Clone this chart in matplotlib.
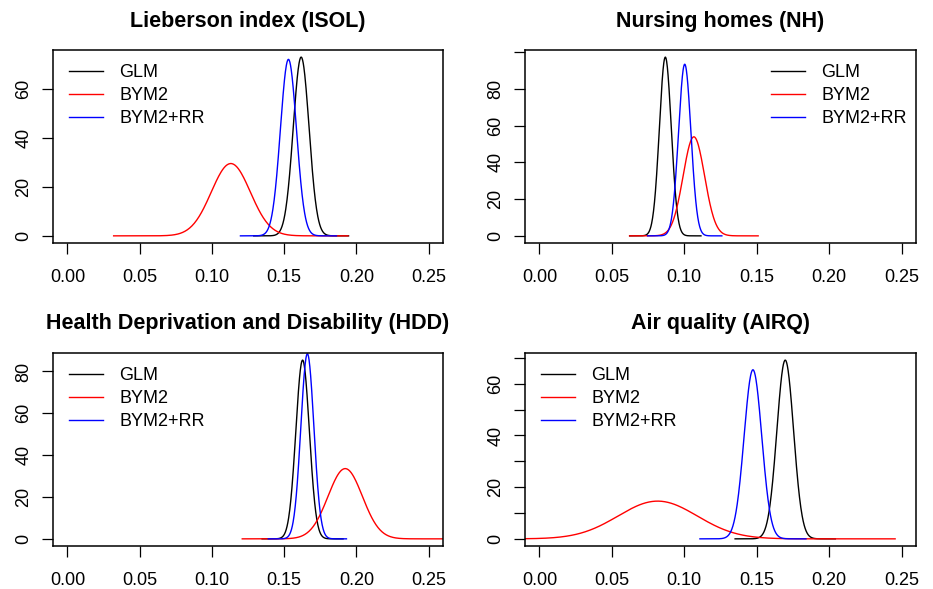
import numpy as np
import matplotlib
matplotlib.use("Agg")
import matplotlib.pyplot as plt

plt.rcParams["font.family"] = ["Liberation Sans", "DejaVu Sans"]

# ── Data ────────────────────────────────────────────────────
panel_titles = [
    "Lieberson index (ISOL)",
    "Nursing homes (NH)",
    "Health Deprivation and Disability (HDD)",
    "Air quality (AIRQ)",
]
model_names = ["GLM", "BYM2", "BYM2+RR"]
model_colors = ["black", "red", "blue"]

# posterior mean / sd of each coefficient (peak position and peak height)
glm_mean = [0.1618, 0.0869, 0.1628, 0.1697]
glm_sd = [0.00547, 0.00410, 0.00467, 0.00577]
bym2_mean = [0.1131, 0.1066, 0.1923, 0.0816]
bym2_sd = [0.01352, 0.00740, 0.01188, 0.02733]
rr_mean = [0.1530, 0.1003, 0.1661, 0.1474]
rr_sd = [0.00554, 0.00427, 0.00451, 0.00610]

x_ticks = [0.00, 0.05, 0.10, 0.15, 0.20, 0.25]
y_tick_step = [20, 20, 20, 10]
y_label_max = [60, 80, 80, 60]
legend_side = ["left", "right", "left", "left"]


def marginal(mean, sd, n=300):
    x = np.linspace(mean - 6 * sd, mean + 6 * sd, n)
    y = np.exp(-0.5 * ((x - mean) / sd) ** 2) / (sd * np.sqrt(2 * np.pi))
    return x, y


fig = plt.figure(figsize=(9.33, 5.89), dpi=100)

W, H = 933, 589
boxes = [(53, 50, 443, 243), (525, 50, 916, 243),
         (53, 353, 443, 546), (525, 353, 916, 546)]

means = list(zip(glm_mean, bym2_mean, rr_mean))
sds = list(zip(glm_sd, bym2_sd, rr_sd))

for i, (x0, y0, x1, y1) in enumerate(boxes):
    ax = fig.add_axes([x0 / W, 1 - y1 / H, (x1 - x0) / W, (y1 - y0) / H])

    gmax = 0
    for j, name in enumerate(model_names):
        x, y = marginal(means[i][j], sds[i][j])
        if j == 0:
            gmax = y.max()
        ax.plot(x, y, color=model_colors[j], lw=1.0, label=name)

    ax.set_xlim(-0.01, 0.26)
    ax.set_ylim(-0.04 * gmax, 1.04 * gmax)

    ax.set_xticks(x_ticks)
    ax.set_xticklabels([f"{t:.2f}" for t in x_ticks])
    yt = np.arange(0, 1.04 * gmax, y_tick_step[i])
    ax.set_yticks(yt)
    ax.set_yticklabels([f"{int(v)}" if (v % 20 == 0 and v <= y_label_max[i]) else ""
                        for v in yt])

    ax.tick_params(axis="both", length=8, width=0.9, labelsize=13)
    ax.tick_params(axis="x", pad=11)
    ax.tick_params(axis="y", labelrotation=90, pad=7)
    for lab in ax.get_yticklabels():
        lab.set_va("center")
    for sp in ax.spines.values():
        sp.set_linewidth(1.1)

    ax.text(0.5, 1 + 29 / 193, panel_titles[i], transform=ax.transAxes,
            ha="center", va="center", fontsize=15.5, fontweight="bold")

    anchor_x = 0.041 if legend_side[i] == "left" else 0.629
    ax.legend(loc="upper left", bbox_to_anchor=(anchor_x, 0.925),
              frameon=False, fontsize=13, handlelength=1.9,
              handletextpad=0.9, labelspacing=0.32,
              borderpad=0, borderaxespad=0)

fig.savefig("out.png", dpi=100)
